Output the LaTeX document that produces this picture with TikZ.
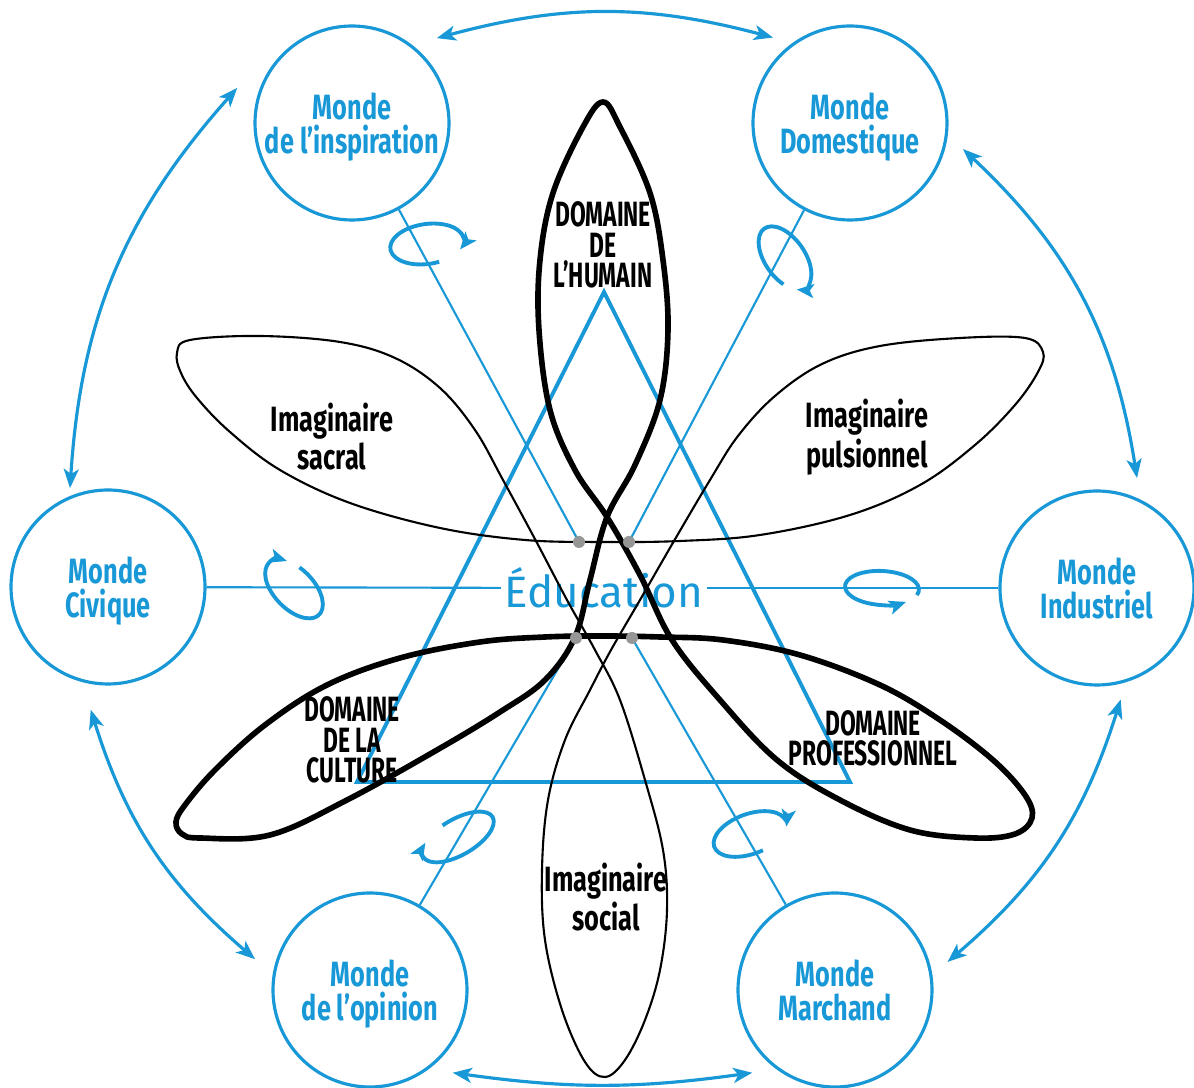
\documentclass[tikz,border=0pt]{standalone}
\usepackage{fontspec}
\usepackage{tikz}
\usetikzlibrary{arrows.meta}
\setmainfont{Fira Sans}
\newfontfamily\mondefont[FakeStretch=0.72]{Fira Sans}
\newfontfamily\capsfont[FakeStretch=0.65]{Fira Sans}
\definecolor{bleu}{RGB}{24,152,214}
\definecolor{gris}{RGB}{150,150,150}

\begin{document}
\begin{tikzpicture}[
	monde/.style={circle,draw=bleu,line width=0.9pt,minimum size=1.94cm,inner sep=0pt,text depth=0pt,align=center,text=bleu,font=\mondefont\bfseries\fontsize{10}{9.6}\selectfont},
	etiquette/.style={align=center,inner sep=0pt,font=\capsfont\bfseries\fontsize{10}{8.6}\selectfont},
	imaginaire label/.style={align=center,inner sep=0pt,font=\mondefont\bfseries\fontsize{10}{9}\selectfont},
	anneau/.style={bleu,line width=0.9pt,{Stealth[length=1.9mm,width=1.5mm,inset=0.5mm]}-{Stealth[length=1.9mm,width=1.5mm,inset=0.5mm]}},
	lien/.style={bleu,line width=0.6pt},
	rotation/.style={bleu,line width=1.1pt,-{Stealth[length=1.7mm,width=1.4mm,inset=0.4mm]}},
	domaine/.style={black,line width=1.6pt},
	imaginaire/.style={black,line width=0.6pt},
	]
	\useasboundingbox (0,0) rectangle (11.94,10.88);
	\fill[white] (0,0) rectangle (11.94,10.88);

	\node[monde] (insp) at (3.52,9.65) {Monde\\de l’inspiration};
	\node[monde] (dom) at (8.50,9.65) {Monde\\Domestique};
	\node[monde] (civ) at (1.08,5.01) {Monde\\Civique};
	\node[monde] (ind) at (10.97,5.00) {Monde\\Industriel};
	\node[monde] (opi) at (3.70,0.98) {Monde\\de l’opinion};
	\node[monde] (mar) at (8.35,0.98) {Monde\\Marchand};

	\draw[anneau] ([shift={(45:1.20)}]insp.center) to[bend left=15] ([shift={(132:1.15)}]dom.center);
	\draw[anneau] ([shift={(-13:1.16)}]dom.center) to[bend left=19] ([shift={(70:1.17)}]ind.center);
	\draw[anneau] ([shift={(-78:1.14)}]ind.center) to[bend left=16] ([shift={(14:1.16)}]mar.center);
	\draw[anneau] ([shift={(-135:1.17)}]mar.center) to[bend left=8] ([shift={(-45:1.17)}]opi.center);
	\draw[anneau] ([shift={(165:1.19)}]opi.center) to[bend left=16] ([shift={(-98:1.24)}]civ.center);
	\draw[anneau] ([shift={(111:1.06)}]civ.center) to[bend left=19] ([shift={(163:1.20)}]insp.center);

	\coordinate (p1) at (5.79,5.46);
	\coordinate (p2) at (6.29,5.46);
	\coordinate (p3) at (5.76,4.50);
	\coordinate (p4) at (6.32,4.50);
	\coordinate (p5) at (5.66,5.00);
	\coordinate (p6) at (6.42,5.00);

	\draw[bleu,line width=1.1pt] (6.04,7.96) -- (3.57,3.06) -- (8.50,3.06) -- cycle;

	\draw[lien] (insp) -- (p1);
	\draw[lien] (dom) -- (p2);
	\draw[lien] (opi) -- (p3);
	\draw[lien] (mar) -- (p4);
	\draw[lien] (civ) -- (p5);
	\draw[lien] (ind) -- (p6);

	\foreach \x/\y/\r/\a/\b/\s/\e in {4.27/8.44/8/0.37/0.20/-75/-390, 2.94/4.99/-46/0.36/0.20/109/-226, 7.85/8.30/-55/0.36/0.20/305/-25, 8.82/5.00/-3/0.37/0.17/-18/312, 4.58/2.51/30/0.40/0.18/101/-219, 7.50/2.54/20/0.38/0.20/-80/-376}
		\draw[rotation,rotate around={\r:(\x,\y)}] (\x,\y) ++(\s:\a cm and \b cm) arc[start angle=\s,end angle=\e,x radius=\a,y radius=\b];

	\node[text=bleu,fill=white,inner sep=1pt,font=\fontsize{12.5}{14}\selectfont] (educ) at (6.04,5.00) {Éducation};

	\draw[imaginaire] plot[smooth cycle,tension=0.6] coordinates {(1.77,7.35) (1.90,7.48) (2.60,7.52) (3.40,7.46) (3.95,7.30) (4.40,7.00) (4.75,6.58) (5.03,6.08) (5.36,5.47) (5.67,4.88) (5.95,4.38) (6.20,3.88) (6.45,3.08) (6.63,2.38) (6.67,1.78) (6.60,1.18) (6.45,0.68) (6.25,0.28) (6.05,0.11) (5.85,0.26) (5.62,0.78) (5.45,1.48) (5.42,2.18) (5.48,2.88) (5.65,3.48) (5.90,3.98) (6.11,4.38) (6.40,4.88) (6.74,5.47) (7.10,6.08) (7.38,6.52) (7.75,6.92) (8.22,7.24) (8.80,7.42) (9.60,7.50) (10.25,7.50) (10.43,7.36) (10.38,7.16) (10.15,6.83) (9.75,6.43) (9.20,6.03) (8.50,5.73) (7.60,5.53) (6.80,5.47) (6.03,5.46) (5.25,5.48) (4.40,5.60) (3.50,5.85) (2.80,6.18) (2.30,6.56) (1.97,6.90) (1.81,7.15)};

	\draw[domaine] plot[smooth cycle,tension=0.6] coordinates {(6.03,9.86) (5.83,9.61) (5.53,8.95) (5.40,8.28) (5.39,7.58) (5.50,6.78) (5.75,6.18) (6.07,5.71) (6.40,5.13) (6.72,4.48) (7.20,3.88) (7.77,3.28) (8.40,2.88) (9.10,2.58) (9.75,2.50) (10.15,2.54) (10.32,2.70) (10.25,2.93) (9.93,3.28) (9.40,3.68) (8.80,4.03) (8.00,4.33) (7.23,4.48) (6.60,4.51) (6.03,4.52) (5.45,4.51) (4.80,4.46) (4.00,4.30) (3.27,4.03) (2.65,3.63) (2.15,3.18) (1.85,2.83) (1.76,2.66) (1.82,2.54) (2.00,2.50) (2.70,2.53) (3.47,2.88) (4.37,3.38) (5.00,3.76) (5.45,4.08) (5.75,4.51) (5.90,5.08) (6.07,5.71) (6.35,6.23) (6.60,6.88) (6.68,7.58) (6.63,8.28) (6.50,8.95) (6.20,9.61)};

	\node[etiquette] (humain) at (6.03,8.43) {DOMAINE\\DE\\L’HUMAIN};
	\node[etiquette] (culture) at (3.52,3.48) {DOMAINE\\DE LA\\CULTURE};
	\node[etiquette] (pro) at (8.73,3.50) {DOMAINE\\PROFESSIONNEL};
	\node[imaginaire label] (sacral) at (3.32,6.51) {Imaginaire\\sacral};
	\node[imaginaire label] (pulsion) at (8.67,6.51) {Imaginaire\\pulsionnel};
	\node[imaginaire label] (social) at (6.06,1.91) {Imaginaire\\social};

	\foreach \p in {p1,p2,p3,p4}
		\fill[gris] (\p) circle (0.06);
\end{tikzpicture}
\end{document}
